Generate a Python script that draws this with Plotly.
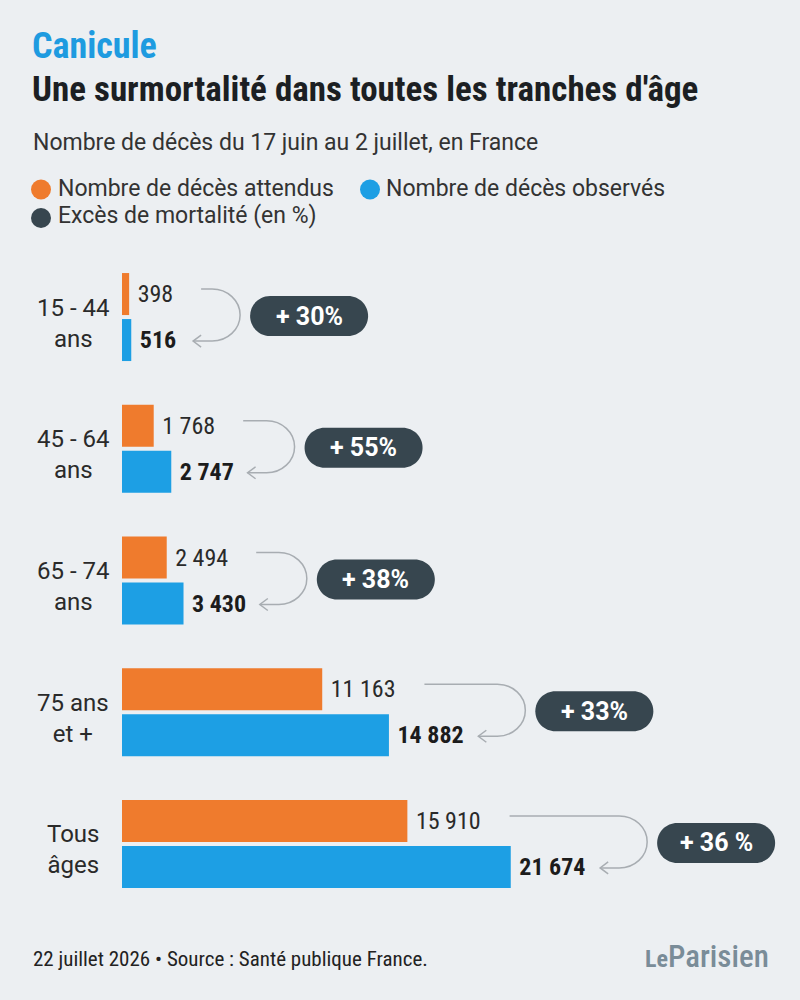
import plotly.graph_objects as go

# Données
categories = ["15 - 44<br>ans", "45 - 64<br>ans", "65 - 74<br>ans", "75 ans<br>et +", "Tous<br>âges"]
deces_attendus = [398, 1768, 2494, 11163, 15910]
deces_observes = [516, 2747, 3430, 14882, 21674]
exces_labels = ["+ 30%", "+ 55%", "+ 38%", "+ 33%", "+ 36 %"]
series = ["Nombre de décès attendus", "Nombre de décès observés", "Excès de mortalité (en %)"]

ORANGE = "#ef7b2d"
BLUE = "#1d9fe4"
DARK = "#37464f"
GREY = "#a8adb2"
BG = "#eceff2"
TXT = "#2a2a2a"
FONT = "Roboto"
COND = "Roboto Condensed, Liberation Sans Narrow, Arial Narrow, Roboto, sans-serif"

# geometry (pixels)
W, H = 800, 1000
L, R, T, B = 122, 0, 238, 77
PW, PH = W - L - R, H - T - B
XMAX = 37800
YMIN, YMAX = -0.6, 4.6
KX = PW / XMAX
KY = PH / (YMAX - YMIN)


def fx(p):  # pixel -> paper
    return (p - L) / PW


def fy(p):
    return (H - B - p) / PH


def dx(p):  # pixel -> data
    return (p - L) / KX


def dy(p):
    return YMIN + (p - T) / KY


def fmt(v):
    return f"{v:,}".replace(",", " ")


def text_w(s, size):
    # rough width of a value label
    return sum(0.53 if c.isdigit() else 0.2 for c in s) * size


n = len(categories)
off = 23 / KY
bar_w = 42 / KY
y_att = [i - off for i in range(n)]
y_obs = [i + off for i in range(n)]
lab_att = ["\u00a0" + fmt(v) for v in deces_attendus]
lab_obs = ["\u00a0" + fmt(v) for v in deces_observes]

fig = go.Figure()
fig.add_trace(go.Bar(
    x=deces_attendus, y=y_att, orientation="h", width=bar_w,
    name=series[0], marker_color=ORANGE, marker_line_width=0,
    text=lab_att, textposition="outside", cliponaxis=False,
    outsidetextfont=dict(family=COND, size=24, color=TXT),
))
fig.add_trace(go.Bar(
    x=deces_observes, y=y_obs, orientation="h", width=bar_w,
    name=series[1], marker_color=BLUE, marker_line_width=0,
    text=lab_obs, textposition="outside", cliponaxis=False,
    outsidetextfont=dict(family=COND, size=24, color="#1c1c1c", weight="bold"),
))

shapes = []
annotations = []
k = 0.5523

for i in range(n):
    cy = T + (i - YMIN) * KY
    o_end = L + deces_attendus[i] * KX + 3 + text_w(lab_att[i], 24)
    b_end = L + deces_observes[i] * KX + 3 + text_w(lab_obs[i], 24) * 1.03
    xs = o_end + 26
    xt = max(b_end + 11, o_end + 18)
    xr = xt + 47
    ya = cy - 23 - 5
    yb = cy + 23 + 1
    ym = (ya + yb) / 2
    ry = (yb - ya) / 2
    rx = min(28, xr - xs)
    pts = [
        ("M", [(xs, ya)]),
        ("L", [(xr - rx, ya)]),
        ("C", [(xr - rx + k * rx, ya), (xr, ym - k * ry), (xr, ym)]),
        ("C", [(xr, ym + k * ry), (xr - rx + k * rx, yb), (xr - rx, yb)]),
        ("L", [(xt, yb)]),
    ]
    path = " ".join(c + " ".join(f"{dx(a):.2f},{dy(b):.4f}" for a, b in p) for c, p in pts)
    shapes.append(dict(type="path", path=path, xref="x", yref="y",
                       line=dict(color=GREY, width=1.5)))
    head = (f"M{dx(xt + 8):.2f},{dy(yb - 6):.4f} L{dx(xt):.2f},{dy(yb):.4f} "
            f"L{dx(xt + 8):.2f},{dy(yb + 6):.4f}")
    shapes.append(dict(type="path", path=head, xref="x", yref="y",
                       line=dict(color=GREY, width=1.5)))

    # pill
    pl = xr + 10
    pr = pl + 118
    pc = cy - 1
    r = 20
    top, bot = pc - r, pc + r
    pill = [
        ("M", [(pl + r, top)]),
        ("L", [(pr - r, top)]),
        ("C", [(pr - r + k * r, top), (pr, pc - k * r), (pr, pc)]),
        ("C", [(pr, pc + k * r), (pr - r + k * r, bot), (pr - r, bot)]),
        ("L", [(pl + r, bot)]),
        ("C", [(pl + r - k * r, bot), (pl, pc + k * r), (pl, pc)]),
        ("C", [(pl, pc - k * r), (pl + r - k * r, top), (pl + r, top)]),
    ]
    path = " ".join(c + " ".join(f"{dx(a):.2f},{dy(b):.4f}" for a, b in p) for c, p in pill) + " Z"
    shapes.append(dict(type="path", path=path, xref="x", yref="y",
                       fillcolor=DARK, line=dict(width=0)))
    annotations.append(dict(x=dx((pl + pr) / 2), y=dy(pc), xref="x", yref="y",
                            text=exces_labels[i], showarrow=False,
                            font=dict(family=FONT, size=25, color="white", weight="bold")))

    # category label
    annotations.append(dict(x=fx(73), y=i, xref="paper", yref="y", yshift=-6,
                            xanchor="center", yanchor="middle",
                            text=categories[i], showarrow=False, align="center",
                            font=dict(family=FONT, size=24, color=TXT)))

# header and footer
annotations += [
    dict(x=fx(30), y=fy(46), text="<b>Canicule</b>", xanchor="left",
         font=dict(family=COND, size=36, color="#1e9be0")),
    dict(x=fx(30), y=fy(89.5), text="<b>Une surmortalité dans toutes les tranches d'âge</b>",
         xanchor="left", font=dict(family=COND, size=35, color="#1c1f23")),
    dict(x=fx(31), y=fy(142.5), text="Nombre de décès du 17 juin au 2 juillet, en France",
         xanchor="left", font=dict(family=FONT, size=23, color="#333333")),
    dict(x=fx(56), y=fy(188), text=series[0], xanchor="left",
         font=dict(family=FONT, size=23, color="#333333")),
    dict(x=fx(384), y=fy(188), text=series[1], xanchor="left",
         font=dict(family=FONT, size=23, color="#333333")),
    dict(x=fx(56), y=fy(216), text=series[2], xanchor="left",
         font=dict(family=FONT, size=23, color="#333333")),
    dict(x=fx(31), y=fy(959), text="22 juillet 2026 • Source : Santé publique France.",
         xanchor="left", font=dict(family=COND, size=21, color="#222222")),
    dict(x=fx(771), y=fy(956), text="<span style='font-size:24px'><b>Le</b></span>Parisien",
         xanchor="right", font=dict(family=COND, size=31, color="#7a8c98", weight=500)),
]
for a in annotations[-8:]:
    a.update(xref="paper", yref="paper", showarrow=False, yanchor="middle")

for (cx, cy), col in zip([(41, 189.5), (370, 189.5), (41, 218)], [ORANGE, BLUE, DARK]):
    shapes.append(dict(type="circle", xref="paper", yref="paper",
                       x0=fx(cx - 10), x1=fx(cx + 10), y0=fy(cy + 10), y1=fy(cy - 10),
                       fillcolor=col, line=dict(width=0)))

fig.update_layout(
    width=W, height=H,
    margin=dict(l=L, r=R, t=T, b=B),
    paper_bgcolor=BG, plot_bgcolor=BG,
    showlegend=False,
    barmode="overlay",
    font=dict(family=FONT, color=TXT),
    shapes=shapes,
    annotations=annotations,
)
fig.update_xaxes(range=[0, XMAX], visible=False)
fig.update_yaxes(range=[YMAX, YMIN], visible=False)

fig.write_html("out.html", config={"displayModeBar": False},
               post_script="document.body.style.margin='0';")
